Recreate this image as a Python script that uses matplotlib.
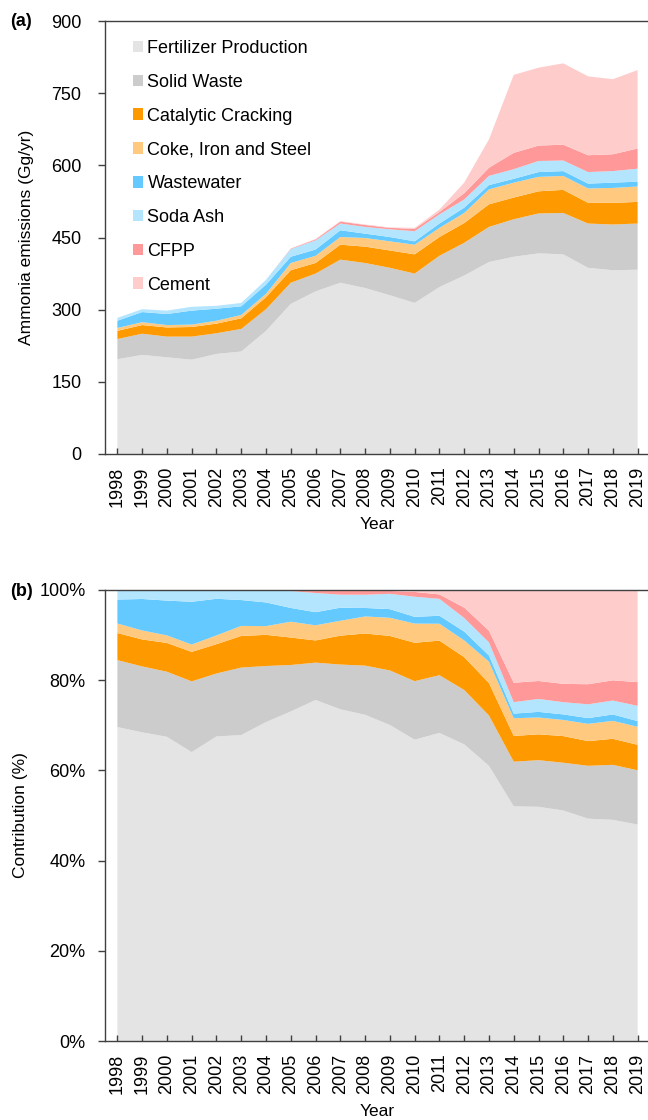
import matplotlib
matplotlib.use("Agg")
import matplotlib.pyplot as plt
from matplotlib.patches import Patch
import numpy as np

plt.rcParams['font.family'] = ['Liberation Sans', 'DejaVu Sans']

years = list(range(1998, 2020))
sources = ["Fertilizer Production", "Solid Waste", "Catalytic Cracking",
           "Coke, Iron and Steel", "Wastewater", "Soda Ash", "CFPP", "Cement"]
colors = ["#E4E4E4", "#CCCCCC", "#FF9900", "#FFC97F", "#63C9FF", "#B3E5FF", "#FF9999", "#FFCCCC"]

# Emissions by source (Gg/yr)
fertilizer = [197, 206, 201, 196, 208, 213, 256, 312, 338, 356, 345, 330, 314, 347, 371, 399, 410, 417, 415, 387, 382, 383]
solid_waste = [42, 44, 43, 48, 43, 47, 45, 44, 37, 48, 52, 57, 61, 65, 68, 73, 78, 83, 86, 92, 95, 96]
catalytic = [17, 18, 19, 20, 20, 22, 25, 26, 22, 31, 34, 36, 40, 39, 41, 47, 45, 46, 48, 43, 45, 45]
coke = [6, 6, 5, 5, 6, 7, 7, 15, 15, 16, 18, 19, 20, 19, 21, 31, 31, 30, 29, 30, 31, 32]
wastewater = [15, 21, 23, 29, 25, 18, 19, 13, 13, 14, 9, 9, 7, 9, 11, 9, 8, 10, 10, 10, 11, 10]
soda_ash = [6, 6, 7, 8, 6, 7, 10, 16, 19, 14, 14, 16, 21, 19, 17, 19, 20, 23, 22, 24, 24, 27]
cfpp = [0, 0, 0, 0, 0, 0, 0, 1, 2, 4, 4, 3, 5, 5, 13, 17, 34, 32, 33, 35, 35, 42]
cement = [0, 0, 0, 0, 0, 0, 0, 0, 1, 1, 1, 1, 2, 5, 22, 59, 162, 162, 169, 164, 156, 163]

series = [fertilizer, solid_waste, catalytic, coke, wastewater, soda_ash, cfpp, cement]
data = np.array(series, dtype=float)
share = data / data.sum(axis=0) * 100

W, H = 648, 1120
fig = plt.figure(figsize=(W / 100, H / 100), dpi=100)

def pos(l, t, r, b):
    return [l / W, 1 - b / H, (r - l) / W, (b - t) / H]

ax1 = fig.add_axes(pos(105, 21, 650, 454))
ax2 = fig.add_axes(pos(105, 590, 650, 1041))

FS = 13
spine_c = "#404040"
for ax, vals in ((ax1, data), (ax2, share)):
    ax.stackplot(years, vals, colors=colors, linewidth=0)
    ax.set_xlim(1997.5, 2019.5)
    ax.set_xticks(years)
    ax.set_xticklabels([str(y) for y in years], rotation=90, fontsize=FS)
    ax.spines['right'].set_visible(False)
    for s in ('left', 'bottom', 'top'):
        ax.spines[s].set_color(spine_c)
        ax.spines[s].set_linewidth(1.0)
    ax.tick_params(axis='x', direction='in', length=4, width=1, color=spine_c, pad=9)
    ax.tick_params(axis='y', direction='out', length=5, width=1, color=spine_c, labelsize=FS)
    ax.set_xlabel("Year", fontsize=12.5, labelpad=7)

ax1.set_ylim(0, 900)
ax1.set_yticks([0, 150, 300, 450, 600, 750, 900])
ax1.tick_params(axis='y', pad=12)
ax1.set_ylabel("Ammonia emissions (Gg/yr)", fontsize=12.5, labelpad=12)

ax2.set_ylim(0, 100)
ax2.set_yticks([0, 20, 40, 60, 80, 100])
ax2.set_yticklabels([f"{v}%" for v in [0, 20, 40, 60, 80, 100]])
ax2.tick_params(axis='y', pad=9)
ax2.set_ylabel("Contribution (%)", fontsize=12.5, labelpad=8)

handles = [Patch(facecolor=c, edgecolor='none', label=s) for s, c in zip(sources, colors)]
ax1.legend(handles=handles, loc='upper left', bbox_to_anchor=(133 / W, 1 - 40 / H),
           bbox_transform=fig.transFigure, frameon=False, fontsize=FS,
           handlelength=0.55, handleheight=0.6, handletextpad=0.25, labelspacing=0.93,
           borderaxespad=0, borderpad=0)

fig.text(10 / W, 1 - 22 / H, "(a)", fontsize=13, fontweight='bold', va='center', ha='left')
fig.text(10 / W, 1 - 591 / H, "(b)", fontsize=13, fontweight='bold', va='center', ha='left')

fig.savefig("out.png", dpi=100)
